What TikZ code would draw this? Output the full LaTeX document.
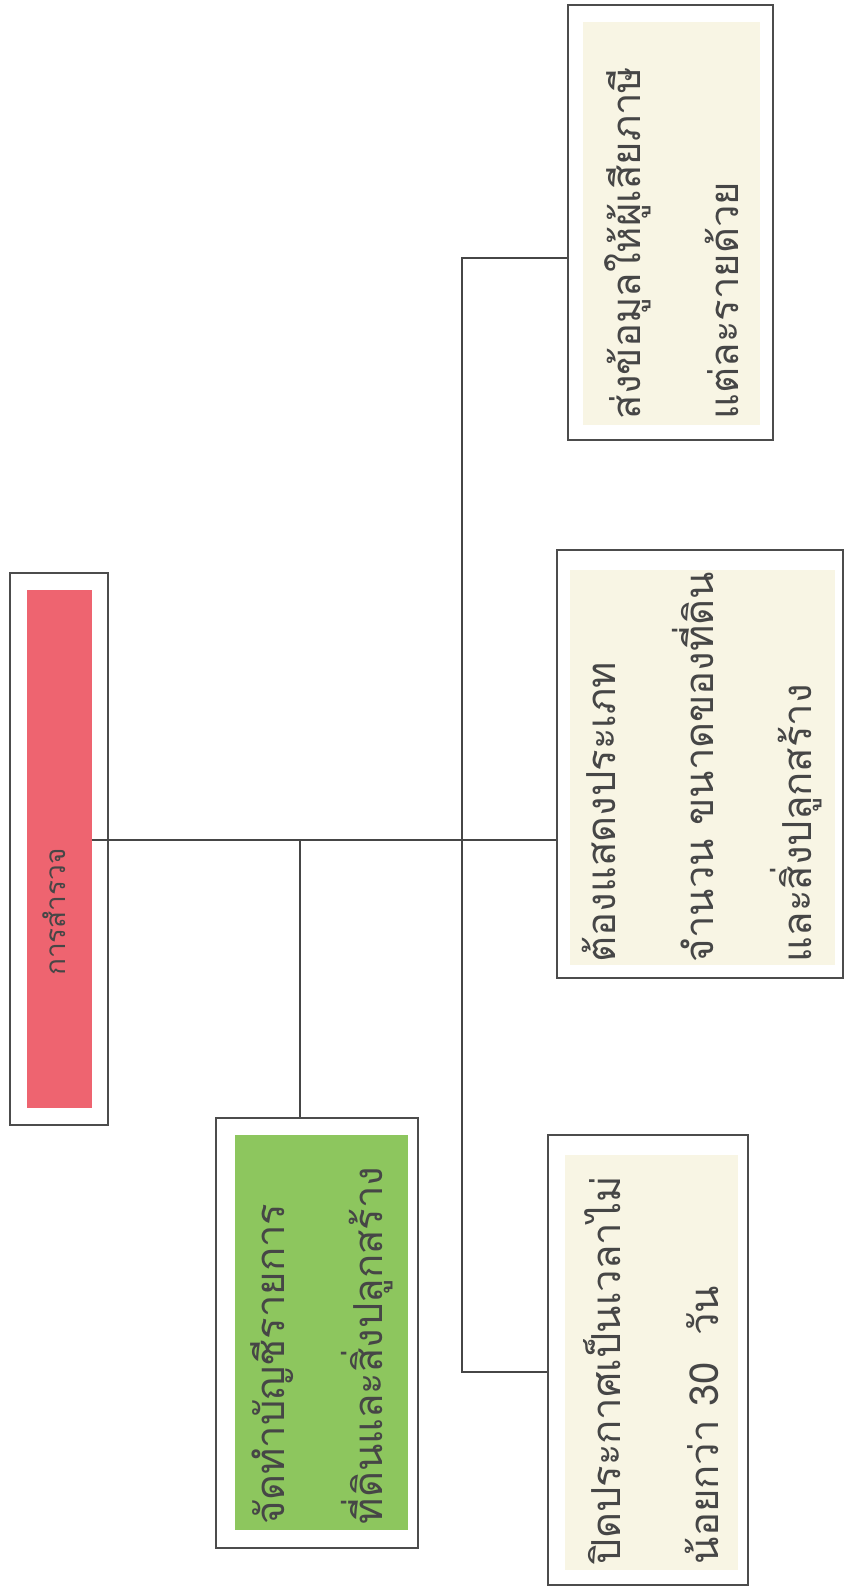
\documentclass[tikz,border=0pt]{standalone}
\usepackage{fontspec}
\newfontfamily\thaifont[Script=Thai]{Loma}
\usetikzlibrary{positioning}
\definecolor{rootred}{RGB}{238,100,112}
\definecolor{leafgreen}{RGB}{141,198,94}
\definecolor{paper}{RGB}{248,245,228}
\definecolor{ink}{RGB}{70,70,70}

\begin{document}
\begin{tikzpicture}[x=1pt,y=-1pt,
	frame/.style={draw=black!70, line width=1.6pt, inner sep=0pt},
	panel/.style={rotate=90, inner sep=0pt, text=ink, align=left,
		font=\thaifont\fontsize{40}{98}\selectfont},
	link/.style={draw=ink, line width=1.4pt}]
	\useasboundingbox (0,0) rectangle (857,1589);
	%%%%% boxes %%%%%
	\node[frame, minimum width=98pt, minimum height=552pt] (rootframe) at (59,849) {};
	\node[panel, fill=rootred, minimum width=518pt, minimum height=65pt] (root) at (59.5,849) {};
	\node[rotate=90, text=ink, font=\thaifont\fontsize{28}{32}\selectfont] (roottext) at (54,912) {การสำรวจ};
	
	\node[frame, minimum width=202pt, minimum height=430pt] (listframe) at (317,1333) {};
	\node[panel, fill=leafgreen, minimum width=395pt, minimum height=173pt, text width=383pt] (list) at (321.5,1332.5)
		{จัดทำบัญชีรายการ\\ที่ดินและสิ่งปลูกสร้าง};
	
	\node[frame, minimum width=200pt, minimum height=450pt] (postframe) at (648,1360) {};
	\node[panel, fill=paper, minimum width=415pt, minimum height=173pt, text width=403pt] (post) at (651.5,1362.5)
		{ปิดประกาศเป็นเวลาไม่\\น้อยกว่า 30~~วัน};
	
	\node[frame, minimum width=286pt, minimum height=428pt] (showframe) at (700,764) {};
	\node[panel, fill=paper, minimum width=395pt, minimum height=265pt, text width=389pt] (show) at (702.5,767.5)
		{ต้องแสดงประเภท\\จำนวน~ขนาดของที่ดิน\\และสิ่งปลูกสร้าง};
	
	\node[frame, minimum width=205pt, minimum height=435pt] (sendframe) at (670.5,222.5) {};
	\node[panel, fill=paper, minimum width=403pt, minimum height=177pt, text width=391pt] (send) at (671.5,223.5)
		{ส่งข้อมูลให้ผู้เสียภาษี\\แต่ละรายด้วย};
	
	%%%%% links %%%%%
	\coordinate (hub) at (300,840);
	\coordinate (trunktop) at (462,258);
	\coordinate (trunkbot) at (462,1372);
	\draw[link] (root.south |- hub) -- (showframe.west |- hub);
	\draw[link] (hub) -- (hub |- listframe.north);
	\draw[link] (sendframe.west |- trunktop) -- (trunktop) -- (trunkbot) -- (postframe.west |- trunkbot);
\end{tikzpicture}
\end{document}
